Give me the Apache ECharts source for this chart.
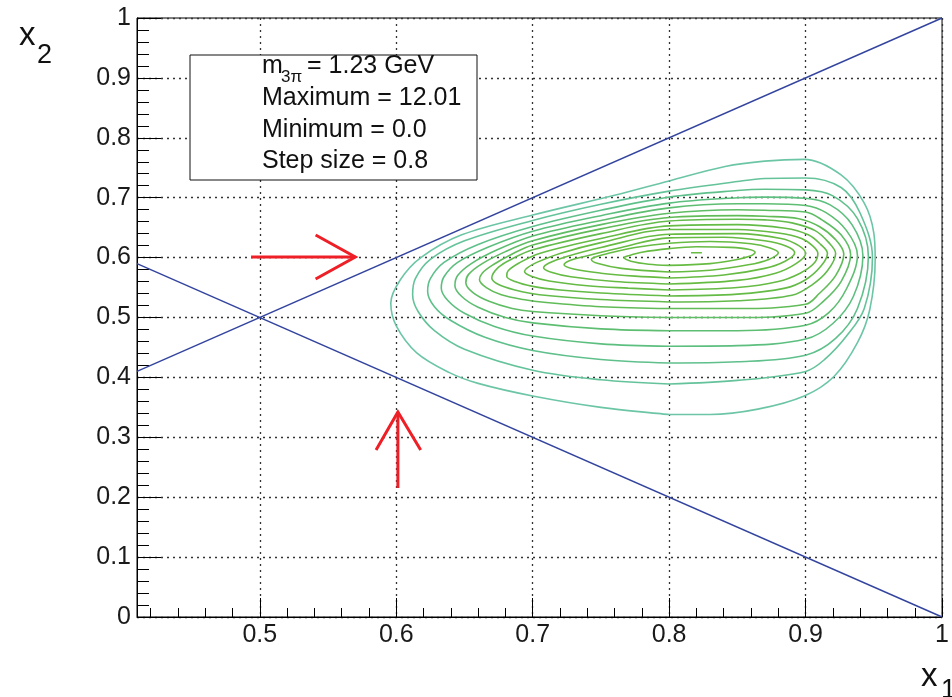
<!DOCTYPE html>
<html>
<head>
<meta charset="utf-8">
<script src="https://cdn.jsdelivr.net/npm/echarts@6/dist/echarts.min.js"></script>
<style>
  html, body { margin: 0; padding: 0; background: #fff; }
  #chart { width: 952px; height: 697px; }
</style>
</head>
<body>
<div id="chart"></div>
<script>
// contour lines (x1, x2), outermost first; levels go up by the step size 0.8
const contour1 = [[0.800,0.338],[0.830,0.338],[0.865,0.347],[0.899,0.369],[0.921,0.402],[0.938,0.458],[0.947,0.513],[0.951,0.597],[0.950,0.641],[0.943,0.691],[0.926,0.738],[0.899,0.764],[0.870,0.761],[0.841,0.752],[0.800,0.728],[0.760,0.704],[0.700,0.671],[0.648,0.638],[0.618,0.600],[0.603,0.563],[0.596,0.524],[0.600,0.486],[0.615,0.441],[0.639,0.408],[0.660,0.390],[0.700,0.369],[0.750,0.350],[0.800,0.338]];
const contour2 = [[0.800,0.389],[0.850,0.395],[0.900,0.410],[0.914,0.430],[0.930,0.469],[0.943,0.515],[0.949,0.600],[0.940,0.674],[0.926,0.717],[0.900,0.733],[0.870,0.732],[0.850,0.727],[0.800,0.711],[0.750,0.689],[0.700,0.662],[0.650,0.628],[0.625,0.597],[0.614,0.565],[0.612,0.538],[0.616,0.510],[0.628,0.478],[0.650,0.447],[0.700,0.412],[0.750,0.396],[0.800,0.389]];
const contour3 = [[0.800,0.424],[0.850,0.426],[0.900,0.437],[0.922,0.465],[0.938,0.515],[0.946,0.602],[0.938,0.665],[0.920,0.703],[0.900,0.713],[0.870,0.714],[0.850,0.712],[0.800,0.701],[0.750,0.679],[0.700,0.652],[0.660,0.622],[0.635,0.592],[0.625,0.565],[0.623,0.544],[0.628,0.518],[0.640,0.495],[0.665,0.467],[0.700,0.445],[0.750,0.430],[0.800,0.424]];
const contour4 = [[0.800,0.452],[0.850,0.453],[0.900,0.464],[0.920,0.490],[0.935,0.535],[0.942,0.603],[0.934,0.655],[0.918,0.688],[0.900,0.699],[0.870,0.701],[0.850,0.700],[0.800,0.691],[0.750,0.670],[0.700,0.644],[0.668,0.618],[0.645,0.592],[0.635,0.568],[0.633,0.549],[0.638,0.528],[0.650,0.507],[0.672,0.485],[0.700,0.469],[0.750,0.456],[0.800,0.452]];
const contour5 = [[0.800,0.478],[0.850,0.478],[0.900,0.487],[0.917,0.508],[0.930,0.548],[0.938,0.604],[0.930,0.645],[0.915,0.675],[0.900,0.687],[0.870,0.690],[0.850,0.690],[0.800,0.683],[0.750,0.662],[0.700,0.636],[0.674,0.613],[0.655,0.590],[0.645,0.570],[0.643,0.553],[0.648,0.535],[0.660,0.517],[0.680,0.500],[0.700,0.491],[0.750,0.481],[0.800,0.478]];
const contour6 = [[0.800,0.500],[0.850,0.500],[0.900,0.507],[0.913,0.527],[0.926,0.560],[0.933,0.605],[0.926,0.638],[0.912,0.663],[0.900,0.676],[0.870,0.679],[0.850,0.680],[0.800,0.674],[0.750,0.655],[0.700,0.628],[0.680,0.610],[0.663,0.590],[0.653,0.572],[0.651,0.558],[0.656,0.542],[0.668,0.527],[0.685,0.515],[0.700,0.510],[0.750,0.503],[0.800,0.500]];
const contour7 = [[0.800,0.515],[0.850,0.515],[0.900,0.522],[0.910,0.540],[0.922,0.570],[0.928,0.606],[0.922,0.630],[0.910,0.652],[0.895,0.665],[0.870,0.669],[0.850,0.670],[0.800,0.667],[0.750,0.648],[0.700,0.621],[0.685,0.606],[0.671,0.588],[0.663,0.574],[0.661,0.563],[0.666,0.550],[0.677,0.538],[0.693,0.530],[0.710,0.525],[0.750,0.518],[0.800,0.515]];
const contour8 = [[0.800,0.526],[0.850,0.528],[0.890,0.537],[0.905,0.555],[0.916,0.578],[0.922,0.607],[0.917,0.625],[0.907,0.645],[0.890,0.658],[0.870,0.663],[0.850,0.664],[0.800,0.661],[0.750,0.640],[0.700,0.613],[0.685,0.598],[0.675,0.584],[0.670,0.566],[0.675,0.555],[0.687,0.546],[0.705,0.538],[0.750,0.530],[0.800,0.526]];
const contour9 = [[0.800,0.536],[0.850,0.539],[0.885,0.549],[0.900,0.563],[0.911,0.585],[0.916,0.607],[0.911,0.622],[0.902,0.638],[0.885,0.649],[0.850,0.655],[0.800,0.653],[0.750,0.632],[0.705,0.607],[0.690,0.591],[0.682,0.578],[0.681,0.569],[0.687,0.560],[0.700,0.552],[0.720,0.546],[0.750,0.541],[0.800,0.536]];
const contour10 = [[0.800,0.546],[0.850,0.550],[0.880,0.560],[0.896,0.574],[0.906,0.590],[0.909,0.607],[0.905,0.620],[0.897,0.632],[0.880,0.641],[0.850,0.647],[0.800,0.647],[0.750,0.625],[0.720,0.607],[0.703,0.592],[0.696,0.583],[0.694,0.577],[0.699,0.569],[0.712,0.561],[0.740,0.553],[0.770,0.549],[0.800,0.546]];
const contour11 = [[0.800,0.556],[0.850,0.562],[0.878,0.574],[0.893,0.590],[0.900,0.607],[0.895,0.620],[0.882,0.632],[0.850,0.640],[0.800,0.639],[0.750,0.617],[0.725,0.602],[0.712,0.591],[0.708,0.583],[0.713,0.576],[0.728,0.568],[0.760,0.560],[0.800,0.556]];
const contour12 = [[0.800,0.566],[0.840,0.571],[0.870,0.582],[0.885,0.594],[0.892,0.608],[0.886,0.619],[0.870,0.628],[0.840,0.634],[0.800,0.633],[0.765,0.617],[0.738,0.602],[0.726,0.594],[0.723,0.588],[0.730,0.581],[0.750,0.574],[0.775,0.569],[0.800,0.566]];
const contour13 = [[0.800,0.576],[0.830,0.579],[0.858,0.588],[0.873,0.597],[0.880,0.608],[0.874,0.616],[0.860,0.623],[0.830,0.627],[0.800,0.624],[0.775,0.617],[0.757,0.608],[0.746,0.601],[0.743,0.597],[0.748,0.590],[0.765,0.582],[0.800,0.576]];
const contour14 = [[0.800,0.587],[0.830,0.590],[0.848,0.596],[0.860,0.603],[0.863,0.609],[0.858,0.614],[0.845,0.617],[0.820,0.618],[0.800,0.615],[0.780,0.609],[0.770,0.603],[0.767,0.600],[0.772,0.594],[0.785,0.589],[0.800,0.587]];
const contour15 = [[0.816,0.608],[0.824,0.608]];

const contours = [contour1, contour2, contour3, contour4, contour5, contour6, contour7, contour8,
  contour9, contour10, contour11, contour12, contour13, contour14, contour15];
const contourColors = ['#6cc6a6', '#64c39a', '#5fc08c', '#5dbf7f', '#5dbe72', '#5fbd65', '#61bc58',
  '#63bb4c', '#64bb46', '#65bb44', '#66bb42', '#66bb42', '#66bb42', '#66bb42', '#66bb42'];

// kinematic boundaries x2 = x1 and x2 = 1 - x1
const boundaryUpper = [[0.41, 0.41], [1, 1]];
const boundaryLower = [[0.41, 0.59], [1, 0]];

// red arrows (shaft, head)
const arrowRightShaft = [[0.4936, 0.601], [0.570, 0.601]];
const arrowRightHead = [[0.5409, 0.6377], [0.570, 0.601], [0.5409, 0.5643]];
const arrowUpShaft = [[0.6012, 0.2154], [0.6012, 0.3422]];
const arrowUpHead = [[0.5852, 0.2788], [0.6012, 0.3422], [0.6179, 0.2788]];

// x1 axis ticks
const xMajorTicks = [0.5, 0.6, 0.7, 0.8, 0.9, 1.0];
const xMinorTicks = [0.42, 0.44, 0.46, 0.48, 0.52, 0.54, 0.56, 0.58, 0.62, 0.64, 0.66, 0.68,
  0.72, 0.74, 0.76, 0.78, 0.82, 0.84, 0.86, 0.88, 0.92, 0.94, 0.96, 0.98];

const infoLines = ['Maximum = 12.01', 'Minimum = 0.0', 'Step size = 0.8'];

const FONT = '"Liberation Sans", Arial, Helvetica, sans-serif';
const chart = echarts.init(document.getElementById('chart'));

const series = contours.map((c, i) => ({
  type: 'line',
  data: c,
  symbol: 'none',
  smooth: 0.35,
  silent: true,
  z: 3,
  lineStyle: { color: contourColors[i], width: 1.6 }
}));

[boundaryUpper, boundaryLower].forEach(b => series.push({
  type: 'line', data: b, symbol: 'none', silent: true, z: 4,
  lineStyle: { color: '#33449e', width: 1.4 }
}));

[arrowRightShaft, arrowRightHead, arrowUpShaft, arrowUpHead].forEach(a => series.push({
  type: 'line', data: a, symbol: 'none', silent: true, z: 5,
  lineStyle: { color: '#ee1f26', width: 3, cap: 'butt', join: 'miter' }
}));

const txt = (x, y, text, size) => ({
  type: 'text', x: x, y: y, z: 101, silent: true,
  style: { text: text, fill: '#111', font: size + 'px ' + FONT, align: 'left', verticalAlign: 'middle' }
});

const graphics = [
  { type: 'rect', z: 100, silent: true, shape: { x: 190, y: 55, width: 287, height: 125 },
    style: { fill: '#fff', stroke: '#111', lineWidth: 1 } },
  txt(262, 66, 'm', 25),
  txt(281, 77, '3\u03c0', 17),
  txt(307, 66, '= 1.23 GeV', 25)
];
infoLines.forEach((t, i) => graphics.push(txt(262, 98 + i * 31.7, t, 25)));
// axis titles
graphics.push(txt(19, 36, 'x', 33), txt(37, 56, '2', 27));
graphics.push(txt(921, 677, 'x', 33), txt(941, 691, '1', 27));

const fmt = v => (v === 0 ? '0' : v === 1 ? '1' : v.toFixed(1));
const gridLine = { show: true, lineStyle: { color: '#333', type: [2, 4], width: 1.3 } };

chart.setOption({
  animation: false,
  backgroundColor: '#fff',
  grid: { left: 137, right: 4, top: 18, bottom: 80, show: true, borderColor: '#000', borderWidth: 1, backgroundColor: 'transparent' },
  xAxis: [{
    type: 'value', min: 0.41, max: 1, position: 'bottom',
    axisLine: { show: true, onZero: false, lineStyle: { color: '#000', width: 1 } },
    axisTick: { show: true, inside: true, length: 19, customValues: xMajorTicks, lineStyle: { color: '#000' } },
    minorTick: { show: false },
    splitLine: gridLine,
    axisLabel: { fontSize: 25, fontFamily: FONT, color: '#1a1a1a', margin: 6, customValues: xMajorTicks, formatter: fmt }
  }, {
    type: 'value', min: 0.41, max: 1, position: 'bottom', offset: 0,
    axisLine: { show: false, onZero: false },
    axisTick: { show: true, inside: true, length: 9, customValues: xMinorTicks, lineStyle: { color: '#000' } },
    axisLabel: { show: false },
    splitLine: { show: false }
  }],
  yAxis: {
    type: 'value', min: 0, max: 1, interval: 0.1,
    axisLine: { show: true, onZero: false, lineStyle: { color: '#000', width: 1 } },
    axisTick: { show: true, inside: true, length: 24, lineStyle: { color: '#000' } },
    minorTick: { show: true, splitNumber: 5, length: 12, lineStyle: { color: '#000' } },
    splitLine: gridLine,
    axisLabel: { fontSize: 25, fontFamily: FONT, color: '#1a1a1a', margin: 6, formatter: fmt }
  },
  graphic: graphics,
  series: series
});
</script>
</body>
</html>
